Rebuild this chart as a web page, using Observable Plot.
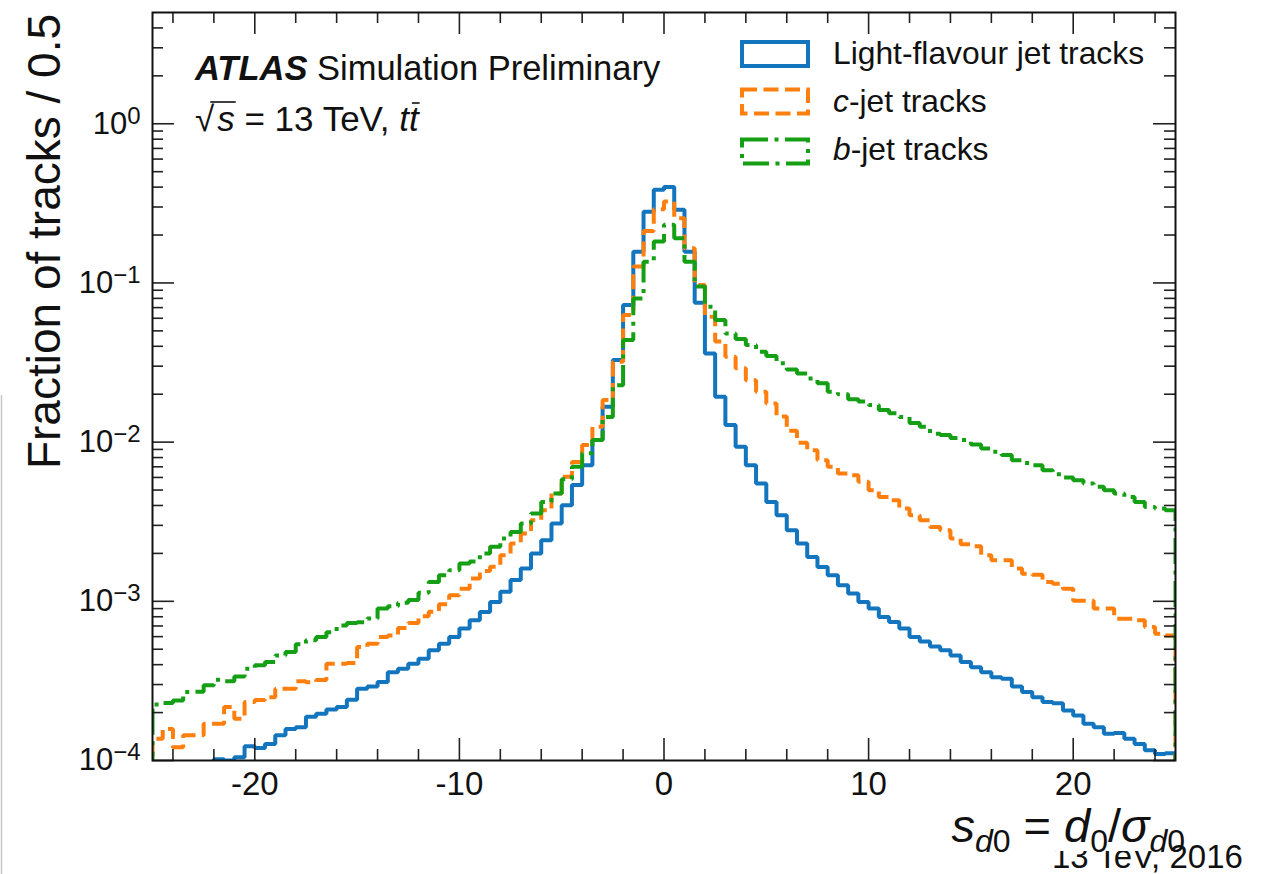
<!DOCTYPE html>
<html><head><meta charset="utf-8">
<script src="https://cdn.jsdelivr.net/npm/d3@7"></script>
<script src="https://cdn.jsdelivr.net/npm/@observablehq/plot@0.6"></script>
<style>
html,body{margin:0;padding:0;background:#fff;}
#chart{position:relative;width:1271px;height:874px;overflow:hidden;}
#chart svg{font-family:"Liberation Sans", Arial, Helvetica, sans-serif;}
</style></head><body><div id="chart"></div>
<script>
// ---- data: fraction of tracks per 0.5 bin of s_d0, bins from -25 to 25 ----
const binLow = -25, binHigh = 25, binWidth = 0.5;
const lightTracks = [
 6.2e-5,6.6e-5,7.0e-5,7.6e-5,8.2e-5,9.0e-5,1.02e-4,1.0e-4,1.05e-4,1.23e-4,
 1.2e-4,1.27e-4,1.44e-4,1.58e-4,1.62e-4,1.88e-4,1.97e-4,2.09e-4,2.17e-4,2.41e-4,
 2.82e-4,2.92e-4,3.11e-4,3.59e-4,3.77e-4,4.06e-4,4.36e-4,4.92e-4,5.42e-4,5.97e-4,
 6.74e-4,7.6e-4,8.57e-4,9.9e-4,1.15e-3,1.36e-3,1.61e-3,2.0e-3,2.42e-3,3.08e-3,
 4.02e-3,5.37e-3,7.17e-3,1.03e-2,1.67e-2,3.28e-2,7.27e-2,0.157,0.280,0.385,
 0.400,0.288,0.157,0.075,0.0361,0.0193,0.0128,0.00935,0.00717,0.0055,
 0.00421,0.00347,0.0028,0.00231,0.0019,0.00164,0.00146,0.00126,0.00112,0.00099,
 0.0009,0.000796,0.000741,0.000674,0.000597,0.00056,0.00052,0.000492,0.000457,0.000415,
 0.000386,0.000359,0.000334,0.000326,0.000292,0.000269,0.00025,0.000233,0.000229,0.000206,
 0.000192,0.00017,0.000162,0.000147,0.000149,0.000137,0.000127,0.000116,0.00011,0.000111
];
const cTracks = [
 1.37e-4,1.58e-4,1.21e-4,1.44e-4,1.44e-4,1.70e-4,1.70e-4,2.17e-4,1.83e-4,2.33e-4,
 2.4e-4,2.5e-4,2.82e-4,2.82e-4,3.15e-4,3.1e-4,3.2e-4,4.05e-4,4.05e-4,4.1e-4,
 5.16e-4,5.42e-4,5.97e-4,6.1e-4,6.8e-4,7.3e-4,8.05e-4,8.6e-4,9.6e-4,1.09e-3,
 1.2e-3,1.39e-3,1.55e-3,1.65e-3,1.95e-3,2.31e-3,2.67e-3,3.23e-3,3.73e-3,4.76e-3,
 6.05e-3,7.5e-3,9.6e-3,1.25e-2,1.84e-2,3.2e-2,6.29e-2,0.127,0.212,0.29,
 0.325,0.255,0.165,0.097,0.0614,0.0428,0.0344,0.0291,0.0245,0.0207,
 0.0175,0.0145,0.0118,0.0099,0.0089,0.0077,0.0070,0.00635,0.0062,0.00563,
 0.00499,0.00453,0.00432,0.00383,0.00347,0.00323,0.00293,0.0028,0.00248,0.00228,
 0.00222,0.00195,0.00181,0.00181,0.00161,0.00149,0.00147,0.00132,0.00129,0.0012,
 0.00101,0.00101,0.0009,0.0009,0.000778,0.000778,0.00076,0.00069,0.000626,0.00061
];
const bTracks = [
 2.25e-4,2.3e-4,2.38e-4,2.69e-4,2.7e-4,2.97e-4,3.21e-4,3.15e-4,3.37e-4,3.77e-4,
 3.96e-4,4.15e-4,4.57e-4,4.8e-4,5.37e-4,5.69e-4,5.97e-4,6.4e-4,7.06e-4,7.3e-4,
 7.4e-4,7.8e-4,9.0e-4,9.3e-4,9.8e-4,1.02e-3,1.13e-3,1.32e-3,1.46e-3,1.57e-3,
 1.73e-3,1.78e-3,2.0e-3,2.2e-3,2.48e-3,2.73e-3,3.08e-3,3.56e-3,4.21e-3,4.76e-3,
 5.85e-3,7.0e-3,8.5e-3,1.03e-2,1.44e-2,2.28e-2,4.38e-2,0.080,0.136,0.182,
 0.232,0.191,0.136,0.095,0.071,0.0585,0.0482,0.0445,0.0407,0.037,
 0.0347,0.0313,0.0286,0.027,0.0251,0.0234,0.0207,0.020,0.0186,0.018,
 0.0171,0.0159,0.0152,0.0144,0.0132,0.0125,0.0113,0.0111,0.0106,0.0103,
 0.00967,0.00912,0.0087,0.0083,0.0077,0.0074,0.00717,0.00667,0.00629,0.006,
 0.00577,0.0055,0.00524,0.00499,0.00476,0.00453,0.00421,0.00392,0.00383,0.00373
];
const seriesNames = ["Light-flavour jet tracks", "c-jet tracks", "b-jet tracks"];
const seriesColors = ["#1375bd", "#ff7f0e", "#149f14"];
const seriesDash = [null, "15,6.5", "26,6.5,4,6.5"];
const xTickLabels = [-20, -10, 0, 10, 20];
const xMinorTicks = [-24,-22,-18,-16,-14,-12,-8,-6,-4,-2,2,4,6,8,12,14,16,18,22,24];
const yMajorTicks = [1e-4, 1e-3, 1e-2, 1e-1, 1];
const yMinorMultipliers = [2,3,4,5,6,7,8,9];
const yDomain = [1e-4, 5];

// ---- build tables for the library ----
const edges = lightTracks.map((_, i) => binLow + i * binWidth);
const floorVal = 1e-6;
const table = [];
[lightTracks, cTracks, bTracks].forEach((vals, s) => {
  table.push({series: seriesNames[s], x: binLow, y: floorVal});
  vals.forEach((v, i) => table.push({series: seriesNames[s], x: edges[i], y: v}));
  table.push({series: seriesNames[s], x: binHigh, y: vals[vals.length - 1]});
  table.push({series: seriesNames[s], x: binHigh, y: floorVal});
});
const yMinorTicks = [];
yMajorTicks.forEach(d => yMinorMultipliers.forEach(m => { const v = d * m; if (v < yDomain[1]) yMinorTicks.push(v); }));

const W = 1271, H = 874, mL = 152, mR = 96, mT = 12, mB = 114;
const innerW = W - mL - mR, innerH = H - mT - mB;
const majorLen = 22, minorLen = 11;
const tickStyle = {stroke: "#222", strokeWidth: 1.6};
const lineW = 4;

const chart = Plot.plot({
  width: W, height: H,
  marginLeft: mL, marginRight: mR, marginTop: mT, marginBottom: mB,
  style: {fontFamily: "'Liberation Sans', Arial, Helvetica, sans-serif", color: "#111", background: "#fff"},
  x: {domain: [binLow, binHigh]},
  y: {type: "log", domain: yDomain, axis: null},
  marks: [
    ...seriesNames.map((name, s) => Plot.line(table.filter(d => d.series === name), {
      x: "x", y: "y", curve: "step-after", clip: true,
      stroke: seriesColors[s], strokeWidth: lineW, strokeDasharray: seriesDash[s],
      strokeLinecap: "butt", strokeLinejoin: "miter"
    })),
    // inward ticks on all four sides
    Plot.tickX(xTickLabels, {x: d => d, insetTop: innerH - majorLen, ...tickStyle}),
    Plot.tickX(xMinorTicks, {x: d => d, insetTop: innerH - minorLen, ...tickStyle}),
    Plot.tickX(xTickLabels, {x: d => d, insetBottom: innerH - majorLen, ...tickStyle}),
    Plot.tickX(xMinorTicks, {x: d => d, insetBottom: innerH - minorLen, ...tickStyle}),
    Plot.tickY(yMajorTicks, {y: d => d, insetRight: innerW - majorLen, ...tickStyle}),
    Plot.tickY(yMinorTicks, {y: d => d, insetRight: innerW - minorLen, ...tickStyle}),
    Plot.tickY(yMajorTicks, {y: d => d, insetLeft: innerW - majorLen, ...tickStyle}),
    Plot.tickY(yMinorTicks, {y: d => d, insetLeft: innerW - minorLen, ...tickStyle}),
    Plot.axisX(xTickLabels, {tickSize: 0, tickPadding: 11, fontSize: 33, tickFormat: d => String(d), label: null}),
    Plot.text(yMajorTicks, {y: d => d, frameAnchor: "left", dx: -12, textAnchor: "end", fontSize: 31,
      text: d => "10^" + Math.round(Math.log10(d)), fill: "#111"}),
    Plot.frame({stroke: "#111", strokeWidth: 2})
  ]
});
document.getElementById("chart").appendChild(chart);

const svg = d3.select(chart);
// superscript exponents on y tick labels
svg.selectAll("text").filter(function() { return /^10\^/.test(this.textContent); }).each(function() {
  const t = d3.select(this);
  const parts = t.text().split("^");
  const e = parts[1].replace("-", "\u2212");
  t.text(null);
  t.append("tspan").text(parts[0]);
  t.append("tspan").attr("dy", "-0.42em").attr("font-size", 24).text(e);
});

const FONT = "'Liberation Sans', Arial, Helvetica, sans-serif";
const addText = (x, y, size) => svg.append("text").attr("x", x).attr("y", y)
  .attr("font-size", size).attr("font-family", FONT).attr("fill", "#111").attr("text-anchor", "start");

// faint artifact line at left edge
svg.append("line").attr("x1", 1.5).attr("x2", 1.5).attr("y1", 395).attr("y2", H)
  .attr("stroke", "#c8c8c8").attr("stroke-width", 1.5);

// y label
svg.append("text").attr("transform", "translate(60,14) rotate(-90)")
  .attr("text-anchor", "end").attr("font-size", 46).attr("font-family", FONT).attr("fill", "#111")
  .text("Fraction of tracks / 0.5");

// "13 TeV, 2016" (partly hidden under the x label box)
addText(1052, 868, 33).text("13 TeV, 2016");
svg.append("rect").attr("x", 1040).attr("y", 800).attr("width", 126).attr("height", 51).attr("fill", "#fff");

// x label: s_d0 = d_0 / sigma_d0
const xl = addText(1185, 842, 47).attr("text-anchor", "end");
const sub = 32, sdy = 10;
xl.append("tspan").attr("font-style", "italic").text("s");
xl.append("tspan").attr("font-size", sub).attr("dy", sdy).attr("font-style", "italic").text("d");
xl.append("tspan").attr("font-size", sub).text("0");
xl.append("tspan").attr("dy", -sdy).text(" = ");
xl.append("tspan").attr("font-style", "italic").text("d");
xl.append("tspan").attr("font-size", sub).attr("dy", sdy).text("0");
xl.append("tspan").attr("dy", -sdy).text("/");
xl.append("tspan").attr("font-style", "italic").text("\u03c3");
xl.append("tspan").attr("font-size", sub).attr("dy", sdy).attr("font-style", "italic").text("d");
xl.append("tspan").attr("font-size", sub).text("0");

// ATLAS label
const at = addText(195, 80, 34.5);
at.append("tspan").attr("font-weight", "bold").attr("font-style", "italic").text("ATLAS");
at.append("tspan").text(" Simulation Preliminary");

const en = addText(195, 131, 35);
en.append("tspan").text("\u221a");
en.append("tspan").attr("font-style", "italic").attr("dx", 3).text("s");
en.append("tspan").text(" = 13 TeV, ");
en.append("tspan").attr("font-style", "italic").text("tt");
{
  const node = en.node();
  const n = node.getNumberOfChars();
  const rootBox = node.getExtentOfChar(0);
  const sBox = node.getExtentOfChar(1);
  svg.append("line").attr("x1", rootBox.x + rootBox.width - 4).attr("x2", sBox.x + sBox.width + 1)
    .attr("y1", rootBox.y + 3).attr("y2", rootBox.y + 3).attr("stroke", "#111").attr("stroke-width", 1.6);
  const tBox = node.getExtentOfChar(n - 1);
  svg.append("line").attr("x1", tBox.x + 3).attr("x2", tBox.x + tBox.width + 1)
    .attr("y1", rootBox.y + 4).attr("y2", rootBox.y + 4).attr("stroke", "#111").attr("stroke-width", 1.6);
}

// legend
const legY = [42, 89.5, 139.5];
const legBase = [64, 112, 160];
seriesNames.forEach((name, s) => {
  svg.append("rect").attr("x", 742).attr("y", legY[s]).attr("width", 66).attr("height", 24)
    .attr("fill", "none").attr("stroke", seriesColors[s]).attr("stroke-width", lineW)
    .attr("stroke-dasharray", seriesDash[s]);
  const t = addText(833, legBase[s], 31.8);
  if (s === 0) t.text(name);
  else {
    t.append("tspan").attr("font-style", "italic").text(name[0]);
    t.append("tspan").text(name.slice(1));
  }
});
</script></body></html>
